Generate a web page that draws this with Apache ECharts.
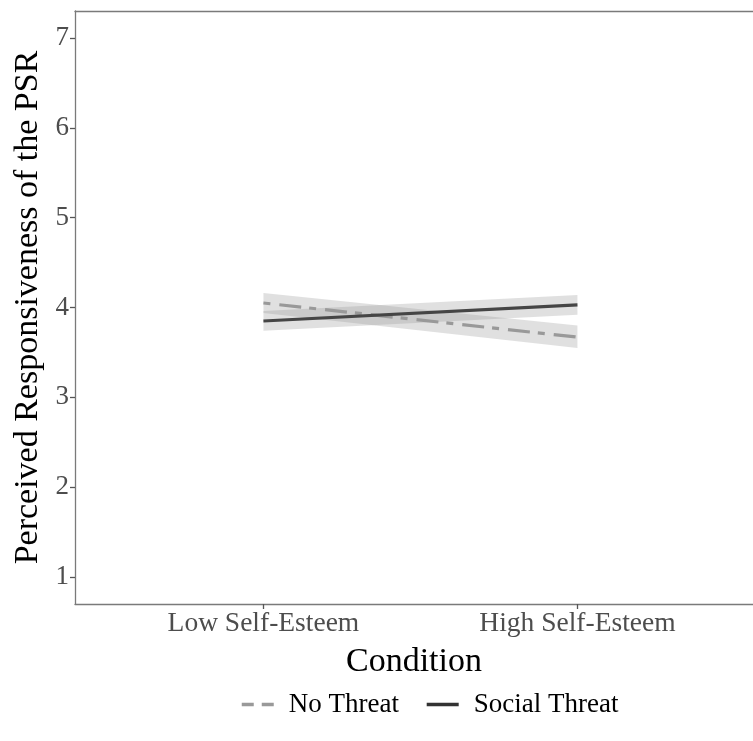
<!DOCTYPE html>
<html>
<head>
<meta charset="utf-8">
<script src="https://cdn.jsdelivr.net/npm/echarts@6/dist/echarts.min.js"></script>
<style>html,body{margin:0;padding:0;background:#fff;}#c{width:753px;height:741px;}</style>
</head>
<body>
<div id="c"></div>
<script>
const categories = ['Low Self-Esteem', 'High Self-Esteem'];
const categoryPos = [1, 2];
const yTicks = [1, 2, 3, 4, 5, 6, 7];
const noThreat = [4.05, 3.67];
const noThreatLo = [3.94, 3.55];
const noThreatHi = [4.16, 3.80];
const socialThreat = [3.85, 4.03];
const socialThreatLo = [3.74, 3.92];
const socialThreatHi = [3.96, 4.14];

const FONT = '"Liberation Serif", "Times New Roman", serif';
const BORDER = { color: '#7a7a7a', width: 1.3 };

function bandData(lo, hi) {
  return categoryPos.map((x, i) => [x, lo[i], hi[i]]);
}
function bandRender(lo, hi) {
  return function (params, api) {
    if (params.dataIndex !== 0) return null;
    const up = categoryPos.map((x, i) => api.coord([x, hi[i]]));
    const dn = categoryPos.map((x, i) => api.coord([x, lo[i]])).reverse();
    return {
      type: 'polygon',
      shape: { points: up.concat(dn) },
      style: { fill: 'rgba(153,153,153,0.3)' }
    };
  };
}

const chart = echarts.init(document.getElementById('c'), null, { renderer: 'canvas' });
chart.setOption({
  animation: false,
  backgroundColor: '#fff',
  grid: { left: 75, top: 11, right: 0, bottom: 137, show: false },
  xAxis: [{
    type: 'value', min: 0.4, max: 2.559, position: 'bottom',
    name: 'Condition', nameLocation: 'middle', nameGap: 41,
    nameTextStyle: { fontFamily: FONT, fontSize: 34, color: '#000' },
    axisLine: { show: true, lineStyle: BORDER },
    splitLine: { show: false },
    axisTick: { show: true, length: 5, lineStyle: { color: '#555', width: 1.3 }, customValues: categoryPos },
    axisLabel: {
      customValues: categoryPos, margin: 6,
      fontFamily: FONT, fontSize: 27.5, color: '#4d4d4d',
      formatter: v => categories[categoryPos.indexOf(Math.round(v))] || ''
    }
  }, {
    type: 'value', min: 0.4, max: 2.559, position: 'top',
    axisLine: { show: true, lineStyle: BORDER },
    axisTick: { show: false }, axisLabel: { show: false }, splitLine: { show: false }
  }],
  yAxis: {
    type: 'value', min: 0.7, max: 7.3,
    name: 'Perceived Responsiveness of the PSR', nameLocation: 'middle', nameGap: 30,
    nameTextStyle: { fontFamily: FONT, fontSize: 34, color: '#000' },
    axisLine: { show: true, lineStyle: BORDER },
    splitLine: { show: false },
    axisTick: { show: true, length: 5, lineStyle: { color: '#555', width: 1.3 }, customValues: yTicks },
    axisLabel: { customValues: yTicks, margin: 6, fontFamily: FONT, fontSize: 27, color: '#4d4d4d' }
  },
  legend: {
    bottom: 23, left: 240, padding: 0,
    itemWidth: 32, itemHeight: 14, itemGap: 26,
    textStyle: { fontFamily: FONT, fontSize: 27, color: '#000', padding: [0, 0, 0, 10] },
    data: [
      { name: 'No Threat', itemStyle: { opacity: 0 }, lineStyle: { type: [12, 8], width: 3.5, color: '#999999' } },
      { name: 'Social Threat', itemStyle: { opacity: 0 }, lineStyle: { width: 3.5, color: '#333333' } }
    ]
  },
  series: [
    {
      type: 'custom', name: 'noThreatBand', silent: true,
      data: bandData(noThreatLo, noThreatHi),
      encode: { x: 0, y: [1, 2] },
      renderItem: bandRender(noThreatLo, noThreatHi), z: 1
    },
    {
      type: 'custom', name: 'socialBand', silent: true,
      data: bandData(socialThreatLo, socialThreatHi),
      encode: { x: 0, y: [1, 2] },
      renderItem: bandRender(socialThreatLo, socialThreatHi), z: 1
    },
    {
      type: 'line', name: 'No Threat', symbol: 'none', z: 3,
      data: categoryPos.map((x, i) => [x, noThreat[i]]),
      lineStyle: { color: '#999999', width: 3.2, type: [7, 9, 22, 8] },
      itemStyle: { color: '#999999' }
    },
    {
      type: 'line', name: 'Social Threat', symbol: 'none', z: 4,
      data: categoryPos.map((x, i) => [x, socialThreat[i]]),
      lineStyle: { color: '#454545', width: 3.2, type: 'solid' },
      itemStyle: { color: '#454545' }
    }
  ]
});
</script>
</body>
</html>
